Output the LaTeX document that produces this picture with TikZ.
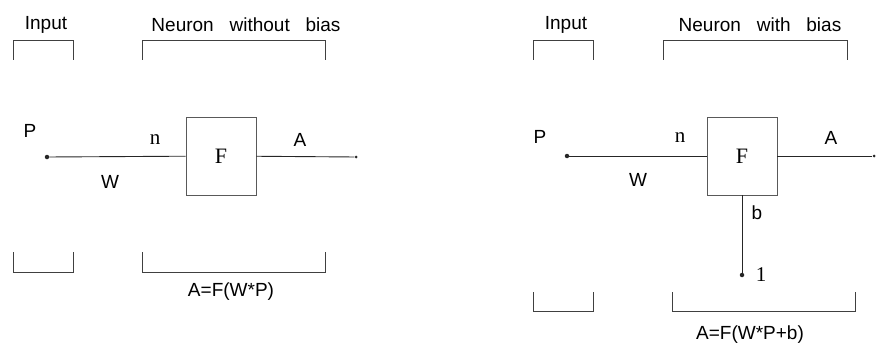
\documentclass[tikz,border=0pt]{standalone}
\usepackage{fontspec}
\setmainfont{Liberation Sans}
\newfontfamily\serifrm{Liberation Serif}
\usetikzlibrary{positioning}
\tikzset{
  neuron/.style={draw=black!65,line width=0.7pt,minimum width=70pt,minimum height=78pt,inner sep=0pt,font=\serifrm\fontsize{22}{22}\selectfont},
  lbl/.style={inner sep=0pt,font=\fontsize{19}{19}\selectfont},
  slbl/.style={inner sep=0pt,font=\serifrm\fontsize{21}{21}\selectfont},
  wire/.style={draw=black!85,line width=0.9pt},
  brk/.style={draw=black!75,line width=0.9pt},
  term/.style={circle,fill=black!85,inner sep=0pt,minimum size=4.5pt},
}

\begin{document}
\begin{tikzpicture}[x=1pt,y=-1pt]
  \useasboundingbox (0,0) rectangle (877,350);
  % left: neuron without bias
  \node[lbl] (tinL) at (46,25) {Input};
  \node[lbl] (tnrL) at (246,25) {Neuron~~~without~~~bias};
  \node[term] (pL) at (47,157) {};
  \node[neuron] (fL) at (221,156) {F};
  \node[term,minimum size=3pt] (aL) at (356,157) {};
  \draw[wire] (pL) -- (fL);
  \draw[wire] (fL) -- (aL);
  \node[lbl] at (30,131) {P};
  \node[slbl] at (155,140) {n};
  \node[lbl] at (110,182) {W};
  \node[lbl] at (300,140) {A};
  \node[lbl] (eqL) at (231,292) {A=F(W*P)};
  % right: neuron with bias
  \node[lbl] (tinR) at (566,25) {Input};
  \node[lbl] (tnrR) at (760,25) {Neuron~~~with~~~bias};
  \node[term] (pR) at (567,156) {};
  \node[neuron] (fR) at (742,156) {F};
  \node[term,minimum size=3pt] (aR) at (874,156) {};
  \node[term] (one) at (742,275) {};
  \draw[wire] (pR) -- (fR);
  \draw[wire] (fR) -- (aR);
  \draw[wire] (fR) -- (one);
  \node[lbl] at (540,137) {P};
  \node[slbl] at (680,138) {n};
  \node[lbl] at (638,180) {W};
  \node[lbl] at (831,138) {A};
  \node[lbl] at (757,213) {b};
  \node[slbl] at (761,275) {1};
  \node[lbl] (eqR) at (750,335) {A=F(W*P+b)};
  % brackets
  \foreach \a/\b in {13/73,142/325,533/593,663/847}
    \draw[brk] (\a,60) |- (\b,40) -- (\b,60);
  \foreach \a/\b/\t/\u in {13/73/252/272,142/325/252/272,533/593/292/311,672/855/292/311}
    \draw[brk] (\a,\t) |- (\b,\u) -- (\b,\t);
\end{tikzpicture}
\end{document}
